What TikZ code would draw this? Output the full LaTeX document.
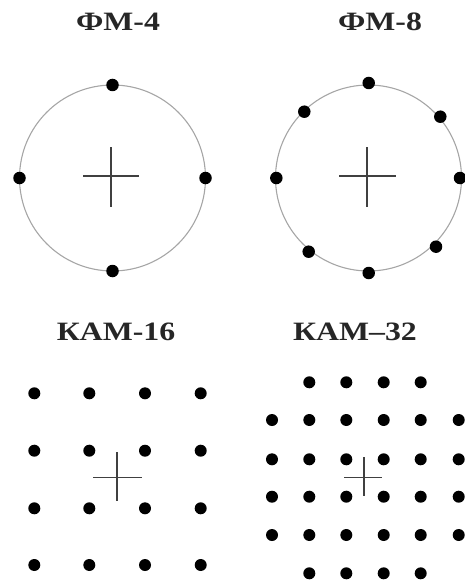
\documentclass[tikz,border=0pt]{standalone}
\usepackage{fontspec}
\setmainfont{Liberation Serif}
\begin{document}
\begin{tikzpicture}[x=1pt,y=-1pt,
  title/.style={anchor=base,inner sep=0pt,xscale=1.2,font=\fontsize{26.5}{32}\selectfont\bfseries,text=black!85},
  pt/.style={circle,fill=black,inner sep=0pt,minimum size=12.5pt},
  gpt/.style={circle,fill=black,inner sep=0pt,minimum size=12pt},
  ring/.style={draw=black!35,line width=1.1pt},
  axis/.style={draw=black!75,line width=1.1pt}]
\useasboundingbox (0,0) rectangle (464,583);
% titles
\node[title] (t1) at (118,31) {ФМ-4};
\node[title] (t2) at (380,31) {ФМ-8};
\node[title] (t3) at (116,340) {КАМ-16};
\node[title] (t4) at (355,340) {КАМ–32};
% PSK-4
\draw[ring] (112.5,178) circle (93);
\draw[axis] (83,176) -- (139,176) (111,147) -- (111,207);
\foreach \a/\n in {90/a,180/b,0/c,270/d}
  \node[pt] (f4\n) at ([shift={(\a:93)}]112.5,178) {};
% PSK-8
\draw[ring] (368.5,178) circle (93);
\draw[axis] (339,176) -- (396,176) (367,147) -- (367,207);
\foreach \x/\y [count=\i] in {368.7/83, 440.3/116.7, 460/178, 436/246.7, 368.7/273, 308.7/251.7, 276.3/178, 304.3/111.7}
  \node[pt] (f8\i) at (\x,\y) {};
% QAM-16
\draw[axis] (93,477.5) -- (142,477.5) (117,452) -- (117,501);
\foreach \x [count=\i] in {34.3,89.3,145,200.7}
  \foreach \y [count=\j] in {393.3,450.7,508.3,565}
    \node[gpt] (q16-\i-\j) at (\x,\y) {};
% QAM-32
\draw[axis] (344,477.5) -- (382,477.5) (364,457) -- (364,496);
\foreach \x [count=\i] in {272,309.3,346.3,383.7,420.7,458.7}
  \foreach \y [count=\j] in {382.3,420,459.3,496.7,535,573.3}{
    \pgfmathtruncatemacro{\corner}{((\i==1 || \i==6) && (\j==1 || \j==6)) ? 1 : 0}
    \ifnum\corner=0
      \node[gpt] (q32-\i-\j) at (\x,\y) {};
    \fi
  }
\end{tikzpicture}
\end{document}
